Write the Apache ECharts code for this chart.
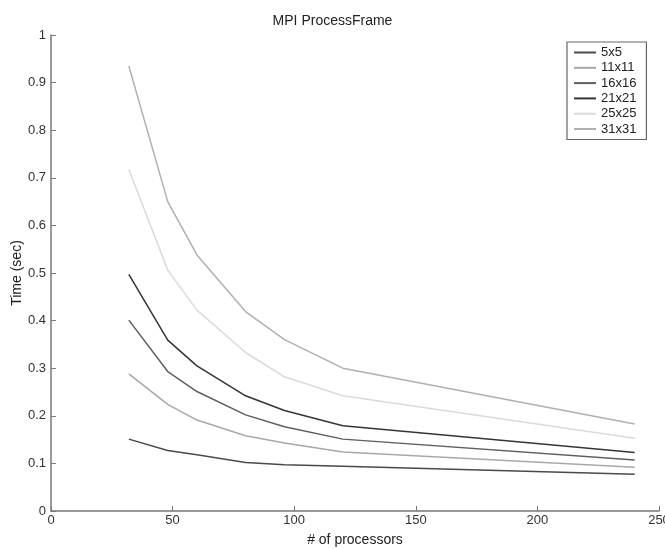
<!DOCTYPE html>
<html>
<head>
<meta charset="utf-8">
<script src="https://cdn.jsdelivr.net/npm/echarts@6/dist/echarts.min.js"></script>
<style>
  html, body { margin: 0; padding: 0; background: #fff; }
  #chart { width: 665px; height: 550px; }
</style>
</head>
<body>
<div id="chart"></div>
<script>
// processor counts on x axis
var processors = [32, 48, 60, 80, 96, 120, 240];

// time (sec) for each frame size
var seriesNames = ['5x5', '11x11', '16x16', '21x21', '25x25', '31x31'];
var t5x5   = [0.151, 0.127, 0.118, 0.102, 0.097, 0.094, 0.077];
var t11x11 = [0.288, 0.224, 0.191, 0.158, 0.143, 0.124, 0.092];
var t16x16 = [0.401, 0.293, 0.251, 0.202, 0.177, 0.151, 0.107];
var t21x21 = [0.497, 0.359, 0.305, 0.242, 0.211, 0.179, 0.123];
var t25x25 = [0.718, 0.506, 0.422, 0.333, 0.282, 0.242, 0.153];
var t31x31 = [0.935, 0.650, 0.538, 0.419, 0.360, 0.300, 0.183];
var lineColors = ['#4a4a4a', '#a8a8a8', '#5e5e5e', '#353535', '#dadada', '#b0b0b0'];

var allValues = [t5x5, t11x11, t16x16, t21x21, t25x25, t31x31];

var chart = echarts.init(document.getElementById('chart'));

var series = seriesNames.map(function (name, i) {
    return {
        name: name,
        type: 'line',
        symbol: 'none',
        lineStyle: { width: 1.5, color: lineColors[i] },
        itemStyle: { color: lineColors[i] },
        data: processors.map(function (p, j) { return [p, allValues[i][j]]; })
    };
});

var option = {
    animation: false,
    backgroundColor: '#fff',
    textStyle: { fontFamily: 'Liberation Sans, Arial, sans-serif' },
    title: {
        text: 'MPI ProcessFrame',
        left: 'center',
        top: 9,
        textStyle: { fontSize: 14, fontWeight: 'normal', color: '#222' }
    },
    legend: {
        orient: 'vertical',
        left: 567,
        top: 42,
        width: 82,
        padding: [3, 10, 3, 7],
        borderColor: '#666',
        borderWidth: 1.2,
        icon: 'rect',
        itemWidth: 22,
        itemHeight: 2,
        itemGap: 0.3,
        textStyle: { fontSize: 13, color: '#222', lineHeight: 15 },
        data: seriesNames
    },
    grid: { left: 51, right: 6, top: 35, bottom: 39, containLabel: false, outerBoundsMode: 'none' },
    xAxis: {
        type: 'value',
        min: 0,
        max: 250,
        interval: 50,
        name: '# of processors',
        nameLocation: 'middle',
        nameGap: 22,
        nameTextStyle: { fontSize: 14, color: '#222' },
        axisLine: { lineStyle: { color: '#777', width: 1.5 } },
        axisTick: { inside: true, length: 5, lineStyle: { color: '#777' } },
        axisLabel: { fontSize: 13, color: '#333', margin: 3 },
        splitLine: { show: false }
    },
    yAxis: {
        type: 'value',
        min: 0,
        max: 1,
        interval: 0.1,
        name: 'Time (sec)',
        nameLocation: 'middle',
        nameGap: 27,
        nameMoveOverlap: false,
        nameTextStyle: { fontSize: 14, color: '#222' },
        axisLine: { show: true, lineStyle: { color: '#777', width: 1.5 } },
        axisTick: { show: true, inside: true, length: 5, lineStyle: { color: '#777' } },
        axisLabel: { fontSize: 13, color: '#333', margin: 5 },
        splitLine: { show: false }
    },
    series: series
};

chart.setOption(option);
</script>
</body>
</html>
